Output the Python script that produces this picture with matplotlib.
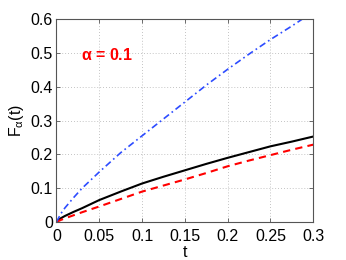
import matplotlib
matplotlib.use("Agg")
import matplotlib.pyplot as plt

t = [0, 0.005, 0.01, 0.02, 0.03, 0.05, 0.075, 0.1, 0.125, 0.15, 0.175, 0.2, 0.225, 0.25, 0.275, 0.3]
black = [0, 0.011, 0.018, 0.030, 0.041, 0.065, 0.090, 0.114, 0.134, 0.153, 0.172, 0.190, 0.207, 0.224, 0.238, 0.253]
red = [0, 0.006, 0.011, 0.020, 0.029, 0.046, 0.068, 0.090, 0.108, 0.126, 0.145, 0.165, 0.182, 0.198, 0.214, 0.229]
blue = [0, 0.024, 0.042, 0.072, 0.100, 0.148, 0.205, 0.255, 0.305, 0.355, 0.405, 0.452, 0.497, 0.540, 0.580, 0.622]

xticks = [0, 0.05, 0.1, 0.15, 0.2, 0.25, 0.3]
xticklabels = ["0", "0.05", "0.1", "0.15", "0.2", "0.25", "0.3"]
yticks = [0, 0.1, 0.2, 0.3, 0.4, 0.5, 0.6]
yticklabels = ["0", "0.1", "0.2", "0.3", "0.4", "0.5", "0.6"]

plt.rcParams['font.family'] = ['Liberation Sans', 'DejaVu Sans']

fig = plt.figure(figsize=(3.46, 2.60), dpi=100)
ax = fig.add_axes([0.163, 0.146, 0.9055 - 0.163, 0.926 - 0.146])

ax.plot(t, black, color='black', lw=1.5, solid_capstyle='butt')
ax.plot(t, red, color='#ff0000', lw=1.5, ls=(0, (3.5, 2.5)))
ax.plot(t, blue, color='#2d4cff', lw=1.2, ls=(0, (4, 2, 1, 2)))

ax.set_xlim(0, 0.3)
ax.set_ylim(0, 0.6)
ax.set_xticks(xticks)
ax.set_xticklabels(xticklabels)
ax.set_yticks(yticks)
ax.set_yticklabels(yticklabels)
ax.tick_params(direction='in', length=3, width=0.6, color='#555555', labelsize=11.5,
               top=True, right=True)
ax.tick_params(axis='x', pad=5)
ax.tick_params(axis='y', pad=2.5)
for s in ax.spines.values():
    s.set_color('#555555')
    s.set_linewidth(0.8)
ax.grid(True, ls=(0, (1, 2.5)), color='#b0b0b0', lw=0.6)

ax.text(0.0595, 0.495, r'$\mathregular{\alpha}$ = 0.1', color='#ff0000', fontsize=11.5,
        fontweight='bold', ha='center', va='center')

ax.set_xlabel('t', fontsize=11.5, labelpad=1)
ax.set_ylabel(r'F$_\mathregular{\alpha}$(t)', fontsize=11.5, labelpad=3)

fig.savefig('out.png', dpi=100)
